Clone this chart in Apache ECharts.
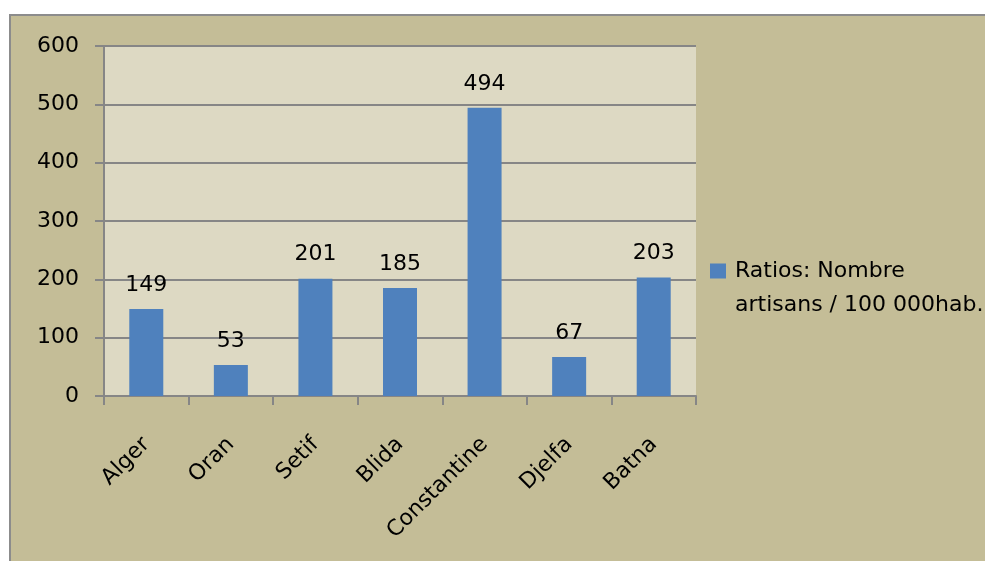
<!DOCTYPE html>
<html>
<head>
<meta charset="utf-8">
<script src="https://cdn.jsdelivr.net/npm/echarts@6/dist/echarts.min.js"></script>
<style>html,body{margin:0;padding:0;background:#fff}#c{width:985px;height:561px}</style>
</head>
<body>
<div id="c"></div>
<script>
var categories = ['Alger', 'Oran', 'Setif', 'Blida', 'Constantine', 'Djelfa', 'Batna'];
var values = [149, 53, 201, 185, 494, 67, 203];
var seriesName = 'Ratios: Nombre\nartisans / 100 000hab.';
var yTicks = { min: 0, max: 600, interval: 100 };

var FONT = 'DejaVu Sans';
var chart = echarts.init(document.getElementById('c'));
chart.setOption({
  backgroundColor: '#ffffff',
  animation: false,
  graphic: [{
    type: 'rect', z: -10, silent: true,
    shape: { x: 10, y: 15, width: 1000, height: 560 },
    style: { fill: '#C4BD97', stroke: '#8C8C8C', lineWidth: 2 }
  }],
  grid: {
    left: 104, right: 289, top: 46, bottom: 165,
    show: true, backgroundColor: '#DDD9C3', borderWidth: 0
  },
  legend: {
    left: 710, top: 220, padding: 0,
    itemWidth: 16, itemHeight: 15,
    icon: 'rect',
    formatter: function (n) { return ' \n' + n; },
    textStyle: { fontFamily: FONT, fontSize: 22, color: '#000', lineHeight: 34, padding: [0, 0, 0, 4] },
    data: [seriesName]
  },
  xAxis: {
    type: 'category',
    data: categories,
    axisLine: { lineStyle: { color: '#868686', width: 2 } },
    axisTick: { show: true, length: 9, lineStyle: { color: '#868686', width: 2 } },
    axisLabel: { rotate: 45, margin: 45, fontFamily: FONT, fontSize: 22, color: '#000', interval: 0 }
  },
  yAxis: {
    type: 'value',
    min: yTicks.min, max: yTicks.max, interval: yTicks.interval,
    axisLine: { show: true, lineStyle: { color: '#868686', width: 2 } },
    axisTick: { show: true, length: 9, lineStyle: { color: '#868686', width: 2 } },
    splitLine: { lineStyle: { color: '#868686', width: 2 } },
    axisLabel: { margin: 25, fontFamily: FONT, fontSize: 22, color: '#000' }
  },
  series: [{
    name: seriesName,
    type: 'bar',
    data: values,
    barWidth: 34,
    itemStyle: { color: '#4F81BD' },
    label: { show: true, position: 'top', distance: 13, fontFamily: FONT, fontSize: 22, color: '#000' }
  }]
});
</script>
</body>
</html>
